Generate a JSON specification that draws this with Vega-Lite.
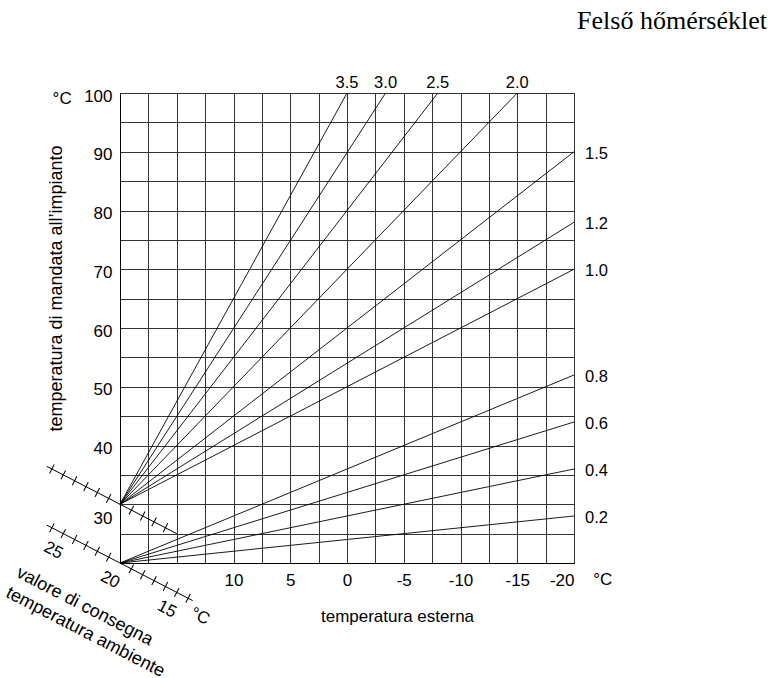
{
  "$schema": "https://vega.github.io/schema/vega-lite/v6.json",
  "width": 454,
  "height": 470,
  "autosize": "none",
  "padding": {"left": 120, "top": 93, "right": 209, "bottom": 115},
  "background": "white",
  "title": {
    "text": "Felső hőmérséklet",
    "font": "Liberation Serif",
    "fontSize": 26,
    "fontWeight": "normal",
    "color": "black",
    "anchor": "end",
    "frame": "group",
    "dx": 193,
    "baseline": "alphabetic",
    "offset": 20
  },
  "datasets": {
    "curves": [
      {"curve": "3.5", "ext": 20, "flow": 30}, {"curve": "3.5", "ext": 0, "flow": 100},
      {"curve": "3.0", "ext": 20, "flow": 30}, {"curve": "3.0", "ext": -3.4, "flow": 100},
      {"curve": "2.5", "ext": 20, "flow": 30}, {"curve": "2.5", "ext": -8, "flow": 100},
      {"curve": "2.0", "ext": 20, "flow": 30}, {"curve": "2.0", "ext": -15, "flow": 100},
      {"curve": "1.5", "ext": 20, "flow": 30}, {"curve": "1.5", "ext": -20, "flow": 90},
      {"curve": "1.2", "ext": 20, "flow": 30}, {"curve": "1.2", "ext": -20, "flow": 78},
      {"curve": "1.0", "ext": 20, "flow": 30}, {"curve": "1.0", "ext": -20, "flow": 70},
      {"curve": "0.8", "ext": 20, "flow": 20}, {"curve": "0.8", "ext": -20, "flow": 52},
      {"curve": "0.6", "ext": 20, "flow": 20}, {"curve": "0.6", "ext": -20, "flow": 44},
      {"curve": "0.4", "ext": 20, "flow": 20}, {"curve": "0.4", "ext": -20, "flow": 36},
      {"curve": "0.2", "ext": 20, "flow": 20}, {"curve": "0.2", "ext": -20, "flow": 28}
    ],
    "rulers": [
      {"ruler": "upper", "ext": 26.45, "flow": 36.45}, {"ruler": "upper", "ext": 15, "flow": 25},
      {"ruler": "lower", "ext": 26.45, "flow": 26.45}, {"ruler": "lower", "ext": 13.6, "flow": 13.6}
    ],
    "rulerTicks": [
      {"ruler": "upper", "s": 26, "ext": 26, "flow": 36},
      {"ruler": "upper", "s": 25, "ext": 25, "flow": 35},
      {"ruler": "upper", "s": 24, "ext": 24, "flow": 34},
      {"ruler": "upper", "s": 23, "ext": 23, "flow": 33},
      {"ruler": "upper", "s": 22, "ext": 22, "flow": 32},
      {"ruler": "upper", "s": 21, "ext": 21, "flow": 31},
      {"ruler": "upper", "s": 19, "ext": 19, "flow": 29},
      {"ruler": "upper", "s": 18, "ext": 18, "flow": 28},
      {"ruler": "upper", "s": 17, "ext": 17, "flow": 27},
      {"ruler": "upper", "s": 16, "ext": 16, "flow": 26},
      {"ruler": "lower", "s": 26, "ext": 26, "flow": 26},
      {"ruler": "lower", "s": 25, "ext": 25, "flow": 25},
      {"ruler": "lower", "s": 24, "ext": 24, "flow": 24},
      {"ruler": "lower", "s": 23, "ext": 23, "flow": 23},
      {"ruler": "lower", "s": 22, "ext": 22, "flow": 22},
      {"ruler": "lower", "s": 21, "ext": 21, "flow": 21},
      {"ruler": "lower", "s": 19, "ext": 19, "flow": 19},
      {"ruler": "lower", "s": 18, "ext": 18, "flow": 18},
      {"ruler": "lower", "s": 17, "ext": 17, "flow": 17},
      {"ruler": "lower", "s": 16, "ext": 16, "flow": 16},
      {"ruler": "lower", "s": 15, "ext": 15, "flow": 15},
      {"ruler": "lower", "s": 14, "ext": 14, "flow": 14}
    ],
    "rulerLabels": [
      {"label": "25", "ext": 25, "flow": 25},
      {"label": "20", "ext": 20, "flow": 20},
      {"label": "15", "ext": 15, "flow": 15}
    ]
  },
  "layer": [
    {
      "data": {"name": "curves"},
      "mark": {"type": "line", "color": "black", "strokeWidth": 0.9},
      "encoding": {
        "x": {
          "field": "ext", "type": "quantitative",
          "scale": {"domain": [20, -20], "nice": false},
          "axis": {
            "title": "temperatura esterna",
            "values": [20, 17.5, 15, 12.5, 10, 7.5, 5, 2.5, 0, -2.5, -5, -7.5, -10, -12.5, -15, -17.5, -20],
            "tickCount": 100,
            "grid": true,
            "ticks": false,
            "labelExpr": "datum.value <= 10 && datum.value % 5 == 0 ? '' + datum.value : ''",
            "labelFontSize": 17,
            "labelPadding": 9,
            "labelFlush": true,
            "labelOverlap": false,
            "labelAngle": 0,
            "titleFontSize": 17,
            "titleFontWeight": "normal",
            "titleX": 277,
            "titleY": 58,
            "titleBaseline": "alphabetic",
            "titleAlign": "center"
          }
        },
        "y": {
          "field": "flow", "type": "quantitative",
          "scale": {"domain": [20, 100], "nice": false},
          "axis": {
            "title": "temperatura di mandata all’impianto",
            "values": [20, 25, 30, 35, 40, 45, 50, 55, 60, 65, 70, 75, 80, 85, 90, 95, 100],
            "tickCount": 100,
            "grid": true,
            "ticks": false,
            "labelExpr": "datum.value >= 30 && datum.value % 10 == 0 ? '' + datum.value : ''",
            "labelFontSize": 17,
            "labelPadding": 8,
            "labelFlush": false,
            "labelOverlap": false,
            "labelOffset": {"condition": {"test": "datum.value == 30", "value": 14}, "value": 3},
            "titleFontSize": 18,
            "titleFontWeight": "normal",
            "titleAngle": -90,
            "titleX": -64,
            "titleY": 195,
            "titleBaseline": "middle",
            "titleAlign": "center"
          }
        },
        "detail": {"field": "curve"}
      }
    },
    {
      "data": {"name": "curves"},
      "transform": [{"filter": "datum.flow == 100"}],
      "mark": {"type": "text", "align": "center", "baseline": "alphabetic", "dy": -5, "fontSize": 16.5, "color": "black"},
      "encoding": {
        "x": {"field": "ext", "type": "quantitative", "scale": {"domain": [20, -20], "nice": false}},
        "y": {"field": "flow", "type": "quantitative", "scale": {"domain": [20, 100], "nice": false}},
        "text": {"field": "curve"}
      }
    },
    {
      "data": {"name": "curves"},
      "transform": [{"filter": "datum.ext == -20"}],
      "mark": {"type": "text", "align": "left", "baseline": "middle", "dx": 11, "dy": 2, "fontSize": 16.5, "color": "black"},
      "encoding": {
        "x": {"field": "ext", "type": "quantitative", "scale": {"domain": [20, -20], "nice": false}},
        "y": {"field": "flow", "type": "quantitative", "scale": {"domain": [20, 100], "nice": false}},
        "text": {"field": "curve"}
      }
    },
    {
      "data": {"name": "rulers"},
      "mark": {"type": "line", "color": "black", "strokeWidth": 1},
      "encoding": {
        "x": {"field": "ext", "type": "quantitative", "scale": {"domain": [20, -20], "nice": false}},
        "y": {"field": "flow", "type": "quantitative", "scale": {"domain": [20, 100], "nice": false}},
        "detail": {"field": "ruler"}
      }
    },
    {
      "data": {"name": "rulerTicks"},
      "mark": {"type": "point", "shape": "M0,-1L0,1", "angle": 27.35, "size": 100, "filled": false, "color": "black", "strokeWidth": 1, "opacity": 1},
      "encoding": {
        "x": {"field": "ext", "type": "quantitative", "scale": {"domain": [20, -20], "nice": false}},
        "y": {"field": "flow", "type": "quantitative", "scale": {"domain": [20, 100], "nice": false}}
      }
    },
    {
      "data": {"name": "rulerLabels"},
      "mark": {"type": "text", "align": "center", "baseline": "middle", "angle": 27.35, "dx": -1, "dy": 19.5, "fontSize": 17, "color": "black"},
      "encoding": {
        "x": {"field": "ext", "type": "quantitative", "scale": {"domain": [20, -20], "nice": false}},
        "y": {"field": "flow", "type": "quantitative", "scale": {"domain": [20, 100], "nice": false}},
        "text": {"field": "label"}
      }
    },
    {
      "data": {"values": [{"t": "°C"}]},
      "mark": {"type": "text", "align": "center", "baseline": "middle", "angle": 27.35, "dy": 10.7, "fontSize": 17, "color": "black"},
      "encoding": {
        "x": {"datum": 12.53, "type": "quantitative", "scale": {"domain": [20, -20], "nice": false}},
        "y": {"datum": 12.53, "type": "quantitative", "scale": {"domain": [20, 100], "nice": false}},
        "text": {"field": "t"}
      }
    },
    {
      "data": {"values": [{"t": "°C"}]},
      "mark": {"type": "text", "align": "center", "baseline": "middle", "fontSize": 17, "color": "black"},
      "encoding": {
        "x": {"datum": -22.53, "type": "quantitative", "scale": {"domain": [20, -20], "nice": false}},
        "y": {"datum": 17.16, "type": "quantitative", "scale": {"domain": [20, 100], "nice": false}},
        "text": {"field": "t"}
      }
    },
    {
      "data": {"values": [{"t": "°C"}]},
      "mark": {"type": "text", "align": "center", "baseline": "middle", "fontSize": 17, "color": "black"},
      "encoding": {
        "x": {"datum": 25.1, "type": "quantitative", "scale": {"domain": [20, -20], "nice": false}},
        "y": {"datum": 99, "type": "quantitative", "scale": {"domain": [20, 100], "nice": false}},
        "text": {"field": "t"}
      }
    },
    {
      "data": {"values": [{"t": "valore di consegna"}]},
      "mark": {"type": "text", "align": "left", "baseline": "alphabetic", "angle": 27.35, "dx": -87, "dy": 60, "lineHeight": 22.7, "fontSize": 18, "color": "black", "text": ["valore di consegna", "temperatura ambiente"]},
      "encoding": {
        "x": {"datum": 20, "type": "quantitative", "scale": {"domain": [20, -20], "nice": false}},
        "y": {"datum": 20, "type": "quantitative", "scale": {"domain": [20, 100], "nice": false}}
      }
    }
  ],
  "config": {
    "font": "Liberation Sans",
    "view": {"stroke": "black", "strokeWidth": 1},
    "text": {"font": "Liberation Sans"},
    "axis": {
      "domainColor": "black",
      "labelFont": "Liberation Sans",
      "titleFont": "Liberation Sans",
      "labelColor": "black",
      "titleColor": "black",
      "gridColor": "#333333",
      "gridOpacity": 1,
      "gridWidth": 1
    }
  }
}
